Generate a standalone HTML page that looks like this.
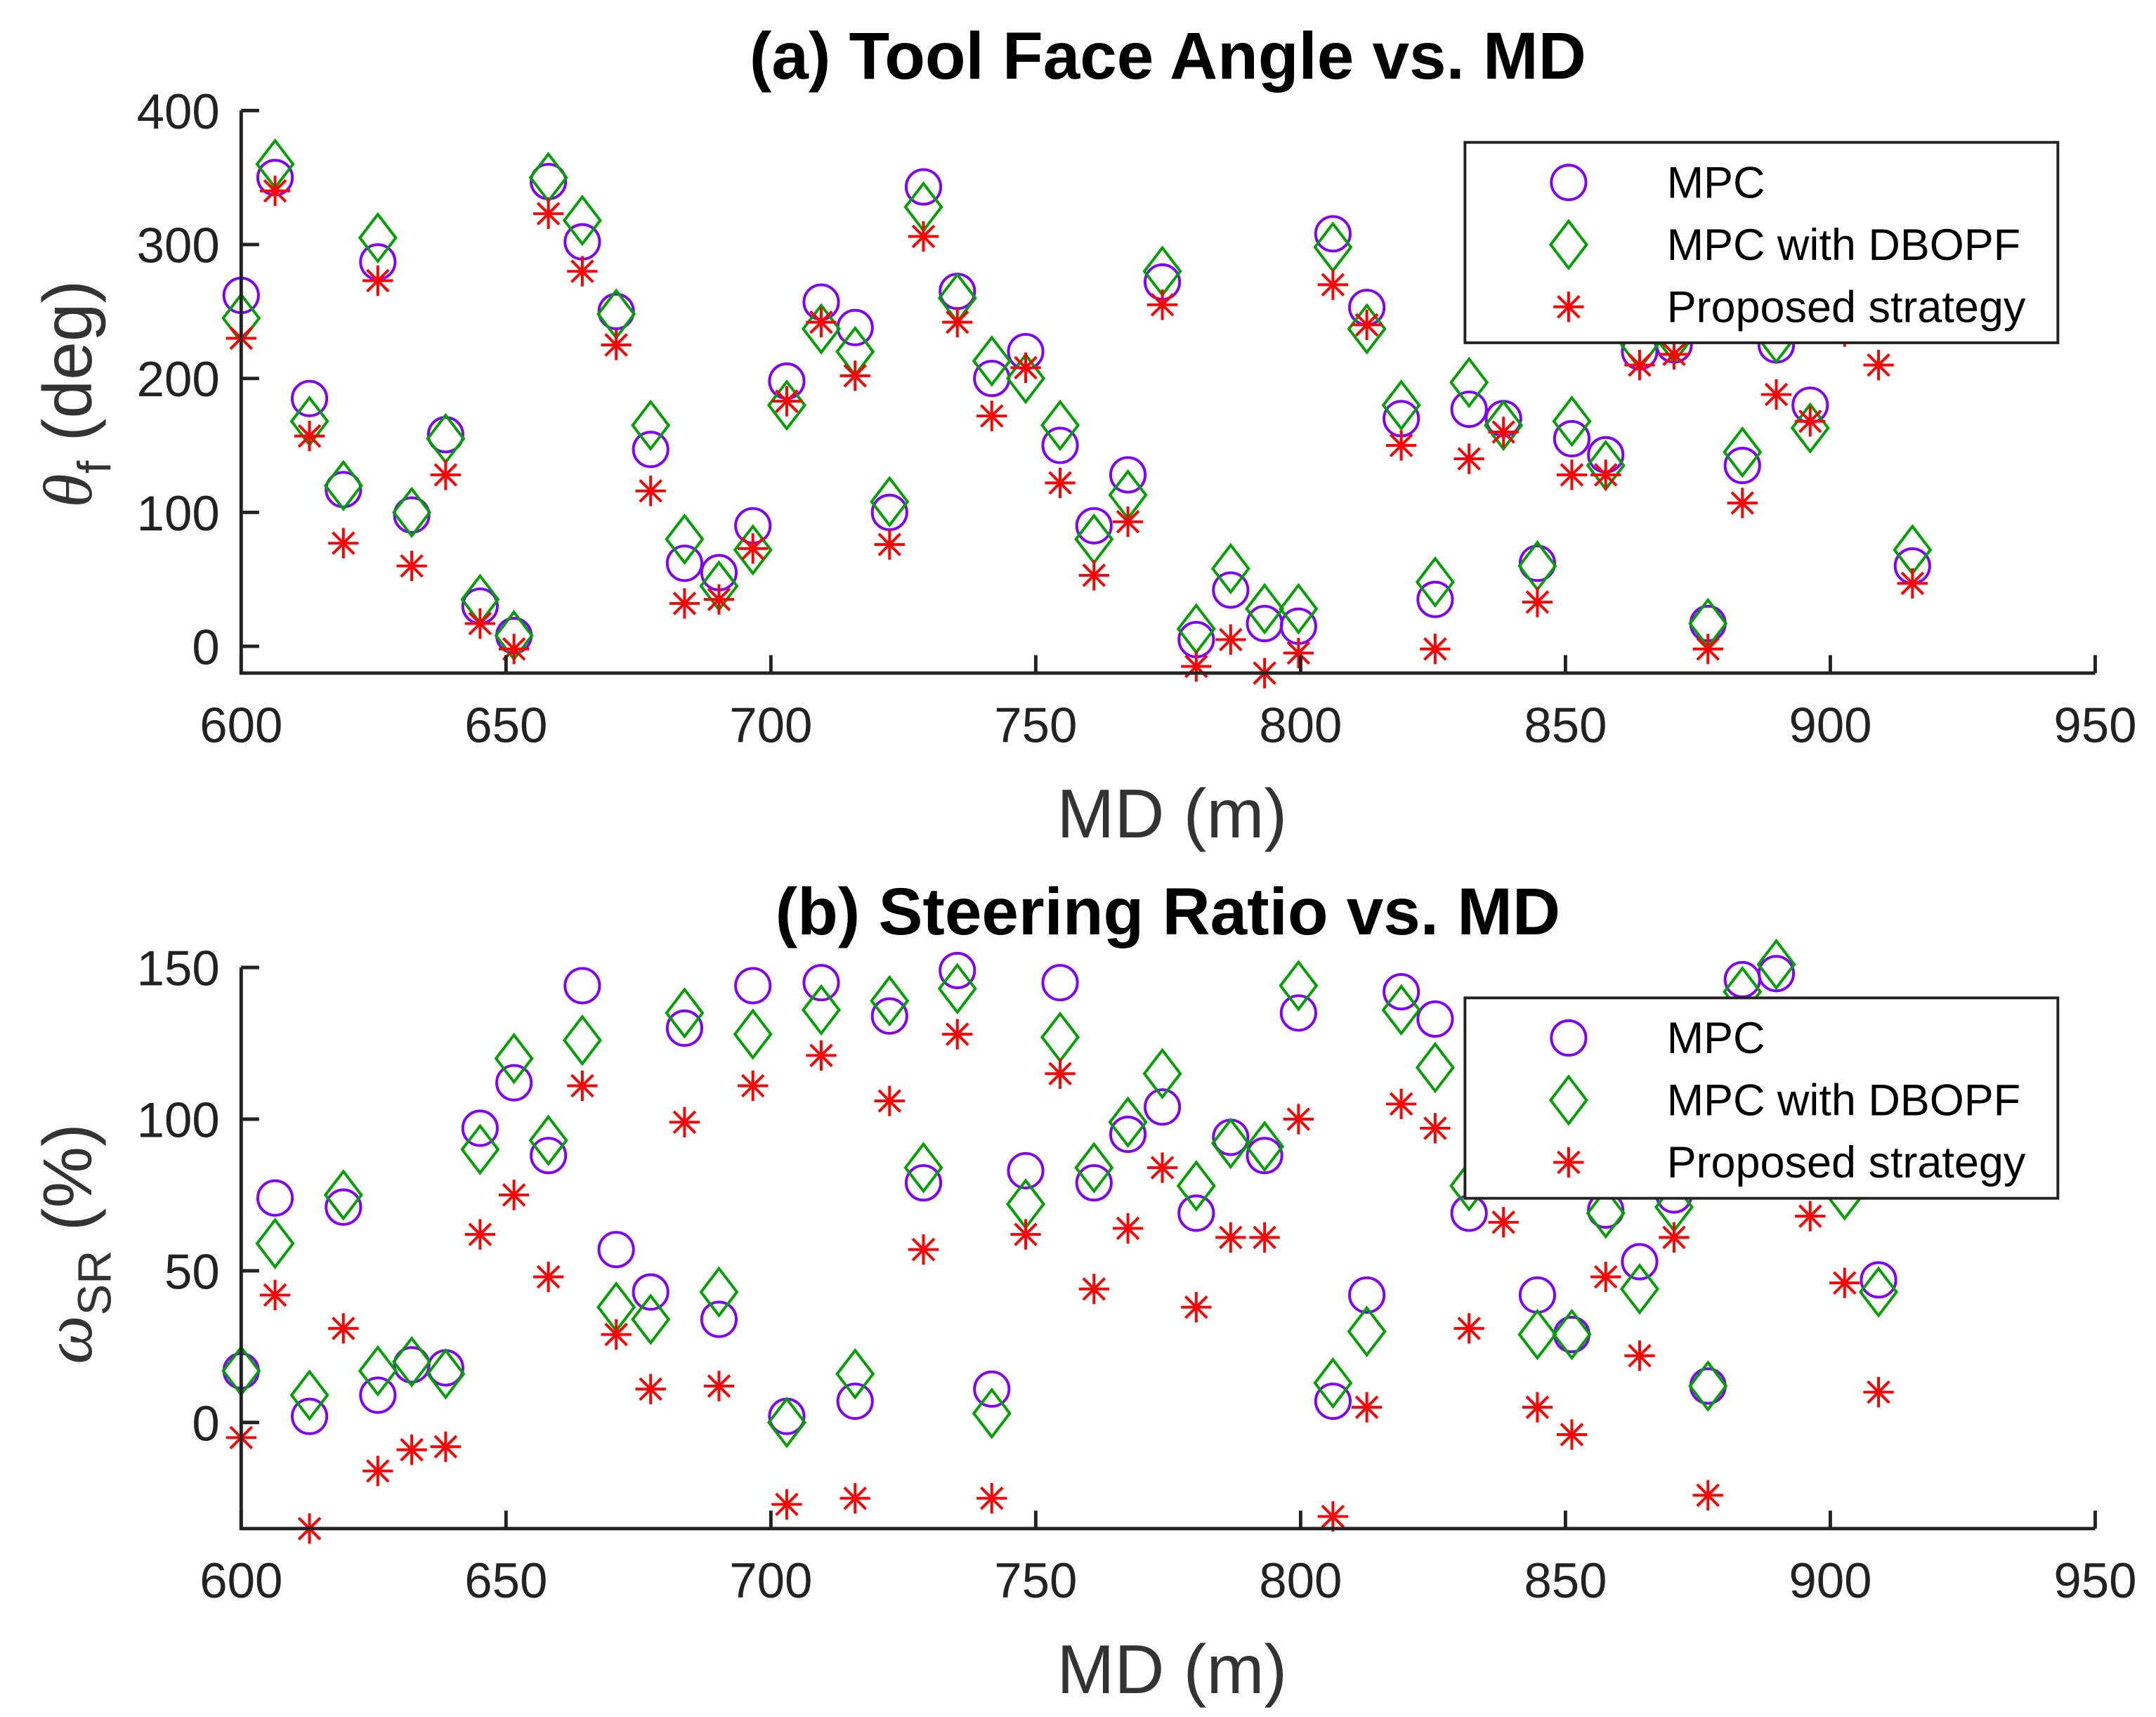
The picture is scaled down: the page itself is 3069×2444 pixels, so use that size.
<!DOCTYPE html>
<html><head><meta charset="utf-8"><style>
html,body{margin:0;padding:0;background:#fff;}
svg{display:block;font-family:"Liberation Sans",Arial,sans-serif;}
</style></head><body>
<svg id="chart" width="3069" height="2444" viewBox="0 0 1560 1242.3" xmlns="http://www.w3.org/2000/svg">
<g id="root"></g>
</svg>
<script>
const mdTop = [600,606.4,612.9,619.3,625.8,632.2,638.6,645.1,651.5,658,664.4,670.8,677.3,683.7,690.2,696.6,703,709.5,715.9,722.4,728.8,735.2,741.7,748.1,754.6,761,767.4,773.9,780.3,786.8,793.2,799.6,806.1,812.5,819,825.4,831.8,838.3,844.7,851.2,857.6,864,870.5,876.9,883.4,889.8,896.2,902.7,909.1,915.5];
const tfMPC = [262,350,185,117,287,98,158,30,8,347,302,250,147,62,55,90,198,257,238,100,343,265,200,220,150,90,128,272,5,42,17,15,308,253,170,35,177,170,62,155,143,220,225,17,135,225,180,240,240,60];
const tfDBOPF = [245,360,168,120,305,100,155,35,8,350,318,248,165,80,45,72,180,237,220,108,328,260,213,200,165,80,113,280,13,58,28,28,298,237,180,48,197,165,60,168,135,225,230,17,145,230,163,250,245,72];
const tfProp = [230,340,157,77,273,60,128,17,-2,323,280,225,116,32,35,73,183,242,202,76,306,242,172,208,122,53,93,255,-15,5,-20,-5,270,240,150,-2,140,160,33,128,128,210,218,-2,107,188,168,235,210,47];
const mdBot = mdTop.slice(0,49);
const srMPC = [17,74,2,71,9,19,18,97,112,88,144,57,43,130,34,144,2,145,7,134,79,149,11,83,145,79,95,104,69,94,88,135,7,42,142,133,69,95,42,29,70,53,75,12,146,148,100,80,47];
const srDBOPF = [17,59,9,75,17,20,16,90,120,93,126,38,34,135,43,128,0,136,16,139,84,143,3,72,127,84,99,115,78,92,91,144,13,30,136,117,78,100,29,29,69,44,71,12,142,151,95,75,43];
const srProp = [-5,42,-35,31,-16,-9,-8,62,75,48,111,29,11,99,12,111,-27,121,-25,106,57,128,-25,62,115,44,64,84,38,61,61,100,-31,5,105,97,31,66,5,-4,48,22,61,-24,100,110,68,46,10];
const xTicks = [600,650,700,750,800,850,900,950];
const yTicksTop = [0,100,200,300,400];
const yTicksBot = [0,50,100,150];
const legendLabels = ["MPC","MPC with DBOPF","Proposed strategy"];

const NS="http://www.w3.org/2000/svg";
const root=document.getElementById('root');
function mk(tag,attrs,parent,text){const e=document.createElementNS(NS,tag);for(const k in attrs)e.setAttribute(k,attrs[k]);if(text!==undefined)e.textContent=text;(parent||root).appendChild(e);return e;}
const C1="#8000ff",C2="#00a000",C3="#ff0000";
function circle(g,x,y){return mk('circle',{cx:x,cy:y,r:12.5,fill:'none',stroke:C1,'stroke-width':2},g);}
function diamond(g,x,y){return mk('path',{d:`M${x} ${y-17}L${x+13} ${y}L${x} ${y+17}L${x-13} ${y}Z`,fill:'none',stroke:C2,'stroke-width':2},g);}
function star(g,x,y){const s=11,d=7.8;return mk('path',{d:`M${x} ${y-s}V${y+s}M${x-s} ${y}H${x+s}M${x-d} ${y-d}L${x+d} ${y+d}M${x-d} ${y+d}L${x+d} ${y-d}`,fill:'none',stroke:C3,'stroke-width':2},g);}

const XL=174.5, XR=1516;
function panel(cfg){
  const g=mk('g',{});
  
  
  const X=v=>XL+(v-600)/350*(XR-XL);
  const Y=v=>cfg.y0-(v-cfg.ymin)/(cfg.ymax-cfg.ymin)*(cfg.y0-cfg.y1);
  const t=mk('text',{x:845,y:cfg.titleY,'text-anchor':'middle','font-size':48,'font-weight':'bold',fill:'#000'},g,cfg.title);
  
  const sg=mk('g',{},g);
  
  cfg.md.forEach((m,i)=>circle(sg,X(m),Y(cfg.s1[i])));
  const sg2=mk('g',{},g);
  
  cfg.md.forEach((m,i)=>diamond(sg2,X(m),Y(cfg.s2[i])));
  const sg3=mk('g',{},g);
  
  cfg.md.forEach((m,i)=>star(sg3,X(m),Y(cfg.s3[i])));
  const ax=mk('path',{d:`M${XL} ${cfg.y1}V${cfg.y0}H${XR}`,fill:'none',stroke:'#222','stroke-width':2.5},g);
  
  xTicks.forEach(v=>{mk('line',{x1:X(v),x2:X(v),y1:cfg.y0,y2:cfg.y0-13,stroke:'#222','stroke-width':2.5},g);
    const l=mk('text',{x:X(v),y:cfg.y0+50,'text-anchor':'middle','font-size':36,fill:'#222'},g,String(v));
    });
  cfg.yt.forEach(v=>{mk('line',{x1:XL,x2:XL+13,y1:Y(v),y2:Y(v),stroke:'#222','stroke-width':2.5},g);
    const l=mk('text',{x:159,y:Y(v)+13,'text-anchor':'end','font-size':36,fill:'#222'},g,String(v));
    });
  const xl=mk('text',{x:848,y:cfg.y0+119,'text-anchor':'middle','font-size':50,fill:'#333'},g,'MD (m)');
  
  const yl=mk('text',{transform:`translate(66 ${cfg.ylabelY}) rotate(-90)`,'text-anchor':'middle','font-size':50,fill:'#333'},g);
  
  mk('tspan',{'font-style':'italic','font-family':'"Liberation Serif",serif'},yl,cfg.sym);
  mk('tspan',{'font-size':34,dy:14},yl,cfg.sub);
  mk('tspan',{dy:-14},yl,cfg.unit);
  const lg=mk('g',{},g);
  
  const ly=cfg.legY;
  mk('rect',{x:1060,y:ly,width:429,height:145,fill:'#fff',stroke:'#222','stroke-width':2},lg);
  const fns=[circle,diamond,star];
  legendLabels.forEach((lab,i)=>{const yy=ly+29+i*45;
    const eg=mk('g',{},lg);
    
    fns[i](eg,1135,yy);
    mk('text',{x:1206,y:yy+11,'font-size':32,fill:'#000'},eg,lab);});
}
panel({name:'panel-tool-face',title:'(a) Tool Face Angle vs. MD',titleY:57,y1:80,y0:487,ymin:-20,ymax:400,yt:yTicksTop,md:mdTop,s1:tfMPC,s2:tfDBOPF,s3:tfProp,sym:'θ',sub:'f',unit:' (deg)',ylabelY:285,legY:103});
panel({name:'panel-steering-ratio',title:'(b) Steering Ratio vs. MD',titleY:676,y1:700,y0:1106,ymin:-35,ymax:150,yt:yTicksBot,md:mdBot,s1:srMPC,s2:srDBOPF,s3:srProp,sym:'ω',sub:'SR',unit:' (%)',ylabelY:900,legY:722});
</script>
</body></html>
